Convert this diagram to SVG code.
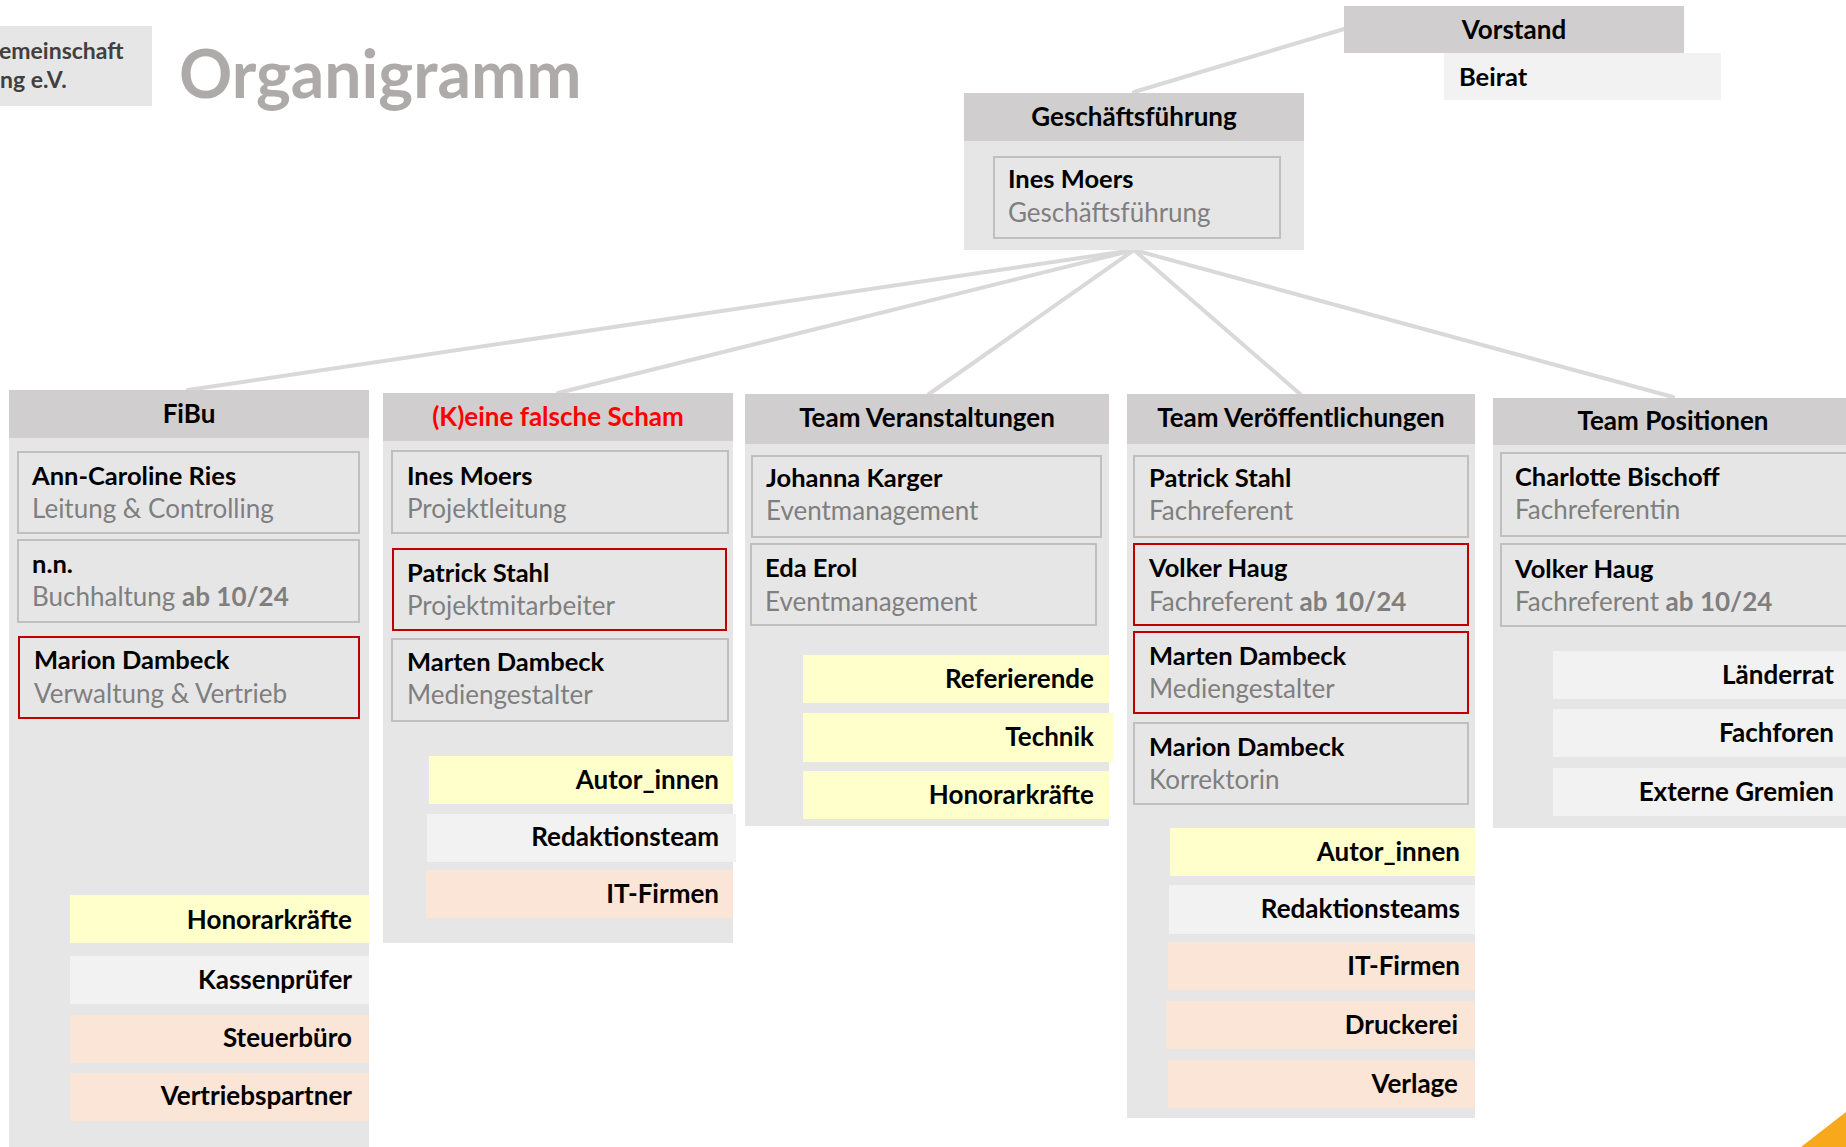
<svg xmlns="http://www.w3.org/2000/svg" width="1846" height="1147" viewBox="0 0 1846 1147">
<style>
text{font-family:Lato,"Open Sans","Liberation Sans",sans-serif}
.hdr{fill:#d0cece}
.body{fill:#e7e6e6}
.pb{fill:#e7e6e6;stroke:#bfbfbf;stroke-width:2}
.pr{fill:#e7e6e6;stroke:#c00000;stroke-width:2}
.lt{fill:#f2f2f2}
.ye{fill:#ffffcc}
.pe{fill:#fbe5d6}
.ht{font-size:26px;font-weight:700;fill:#000;text-anchor:middle}
.nm{font-size:25.5px;font-weight:700;fill:#000}
.rl{font-size:26px;font-weight:400;fill:#7f7f7f}
.rl tspan{font-weight:700}
.ex{font-size:26px;font-weight:700;fill:#000;text-anchor:end}
.con{stroke:#d9d9d9;stroke-width:4;fill:none;stroke-linecap:round}
</style>

<g id="title">
<rect x="0" y="26" width="152" height="80" fill="#e7e6e6"/>
<text x="-1" y="59" font-size="23" font-weight="700" fill="#404040">emeinschaft</text>
<text x="0" y="88" font-size="23" font-weight="700" fill="#404040">ng e.V.</text>
<text x="179" y="98" font-size="66" font-weight="700" fill="#aeaaaa">Organigramm</text>
</g>

<g id="connectors">
<line class="con" x1="1344" y1="29" x2="1134" y2="92"/>
<line class="con" x1="1134" y1="250" x2="188" y2="390"/>
<line class="con" x1="1134" y1="250" x2="558" y2="393"/>
<line class="con" x1="1134" y1="250" x2="929" y2="394"/>
<line class="con" x1="1134" y1="250" x2="1300" y2="394"/>
<line class="con" x1="1134" y1="250" x2="1673" y2="397"/>
</g>

<g id="vorstand">
<rect class="hdr" x="1344" y="6" width="340" height="47"/>
<text class="ht" x="1514" y="39">Vorstand</text>
</g>
<g id="beirat">
<rect class="lt" x="1444" y="53" width="277" height="47"/>
<text class="nm" x="1459" y="86">Beirat</text>
</g>

<g id="geschaeftsfuehrung">
<rect class="body" x="964" y="141" width="340" height="109"/>
<rect class="hdr" x="964" y="93" width="340" height="48"/>
<text class="ht" x="1134" y="126">Geschäftsführung</text>
<rect class="pb" x="994" y="157" width="286" height="81"/>
<text class="nm" x="1008" y="188">Ines Moers</text>
<text class="rl" x="1008" y="222">Geschäftsführung</text>
</g>

<g id="fibu">
<rect class="body" x="9" y="438" width="360" height="709"/>
<rect class="hdr" x="9" y="390" width="360" height="48"/>
<text class="ht" x="189" y="423">FiBu</text>
<rect class="pb" x="18" y="452" width="341" height="81"/>
<text class="nm" x="32" y="485">Ann-Caroline Ries</text>
<text class="rl" x="32" y="518">Leitung &amp; Controlling</text>
<rect class="pb" x="18" y="540" width="341" height="82"/>
<text class="nm" x="32" y="573">n.n.</text>
<text class="rl" x="32" y="606">Buchhaltung <tspan>ab 10/24</tspan></text>
<rect class="pr" x="19" y="637" width="340" height="81"/>
<text class="nm" x="34" y="669">Marion Dambeck</text>
<text class="rl" x="34" y="703">Verwaltung &amp; Vertrieb</text>
<rect class="ye" x="70" y="895" width="299" height="48"/>
<text class="ex" x="352" y="929">Honorarkräfte</text>
<rect class="lt" x="70" y="956" width="299" height="48"/>
<text class="ex" x="352" y="989">Kassenprüfer</text>
<rect class="pe" x="70" y="1015" width="299" height="48"/>
<text class="ex" x="352" y="1047">Steuerbüro</text>
<rect class="pe" x="70" y="1073" width="299" height="48"/>
<text class="ex" x="352" y="1105">Vertriebspartner</text>
</g>

<g id="keine-falsche-scham">
<rect class="body" x="383" y="441" width="350" height="502"/>
<rect class="hdr" x="383" y="393" width="350" height="48"/>
<text class="ht" x="558" y="426" style="fill:#ff0000">(K)eine falsche Scham</text>
<rect class="pb" x="392" y="451" width="336" height="82"/>
<text class="nm" x="407" y="485">Ines Moers</text>
<text class="rl" x="407" y="518">Projektleitung</text>
<rect class="pr" x="393" y="549" width="333" height="81"/>
<text class="nm" x="407" y="582">Patrick Stahl</text>
<text class="rl" x="407" y="615">Projektmitarbeiter</text>
<rect class="pb" x="392" y="639" width="336" height="82"/>
<text class="nm" x="407" y="671">Marten Dambeck</text>
<text class="rl" x="407" y="704">Mediengestalter</text>
<rect class="ye" x="429" y="756" width="304" height="48"/>
<text class="ex" x="719" y="789">Autor_innen</text>
<rect class="lt" x="427" y="814" width="309" height="48"/>
<text class="ex" x="719" y="846">Redaktionsteam</text>
<rect class="pe" x="426" y="870" width="307" height="48"/>
<text class="ex" x="719" y="903">IT-Firmen</text>
</g>

<g id="team-veranstaltungen">
<rect class="body" x="745" y="444" width="364" height="382"/>
<rect class="hdr" x="745" y="394" width="364" height="50"/>
<text class="ht" x="927" y="427">Team Veranstaltungen</text>
<rect class="pb" x="752" y="456" width="349" height="81"/>
<text class="nm" x="766" y="487">Johanna Karger</text>
<text class="rl" x="766" y="520">Eventmanagement</text>
<rect class="pb" x="751" y="544" width="345" height="81"/>
<text class="nm" x="765" y="577">Eda Erol</text>
<text class="rl" x="765" y="611">Eventmanagement</text>
<rect class="ye" x="803" y="655" width="306" height="48"/>
<text class="ex" x="1094" y="688">Referierende</text>
<rect class="ye" x="803" y="713" width="310" height="49"/>
<text class="ex" x="1094" y="746">Technik</text>
<rect class="ye" x="803" y="771" width="306" height="48"/>
<text class="ex" x="1094" y="804">Honorarkräfte</text>
</g>

<g id="team-veroeffentlichungen">
<rect class="body" x="1127" y="444" width="348" height="674"/>
<rect class="hdr" x="1127" y="394" width="348" height="50"/>
<text class="ht" x="1301" y="427">Team Veröffentlichungen</text>
<rect class="pb" x="1134" y="456" width="334" height="81"/>
<text class="nm" x="1149" y="487">Patrick Stahl</text>
<text class="rl" x="1149" y="520">Fachreferent</text>
<rect class="pr" x="1134" y="544" width="334" height="81"/>
<text class="nm" x="1149" y="577">Volker Haug</text>
<text class="rl" x="1149" y="611">Fachreferent <tspan>ab 10/24</tspan></text>
<rect class="pr" x="1134" y="632" width="334" height="81"/>
<text class="nm" x="1149" y="665">Marten Dambeck</text>
<text class="rl" x="1149" y="698">Mediengestalter</text>
<rect class="pb" x="1134" y="723" width="334" height="81"/>
<text class="nm" x="1149" y="756">Marion Dambeck</text>
<text class="rl" x="1149" y="789">Korrektorin</text>
<rect class="ye" x="1170" y="828" width="305" height="48"/>
<text class="ex" x="1460" y="861">Autor_innen</text>
<rect class="lt" x="1169" y="885" width="306" height="49"/>
<text class="ex" x="1460" y="918">Redaktionsteams</text>
<rect class="pe" x="1168" y="942" width="307" height="48"/>
<text class="ex" x="1460" y="975">IT-Firmen</text>
<rect class="pe" x="1166" y="1001" width="309" height="48"/>
<text class="ex" x="1458" y="1034">Druckerei</text>
<rect class="pe" x="1168" y="1060" width="307" height="48"/>
<text class="ex" x="1458" y="1093">Verlage</text>
</g>

<g id="team-positionen">
<rect class="body" x="1493" y="445" width="353" height="383"/>
<rect class="hdr" x="1493" y="398" width="353" height="47"/>
<text class="ht" x="1673" y="430">Team Positionen</text>
<rect class="pb" x="1501" y="453" width="350" height="83"/>
<text class="nm" x="1515" y="486">Charlotte Bischoff</text>
<text class="rl" x="1515" y="519">Fachreferentin</text>
<rect class="pb" x="1501" y="544" width="350" height="82"/>
<text class="nm" x="1515" y="578">Volker Haug</text>
<text class="rl" x="1515" y="611">Fachreferent <tspan>ab 10/24</tspan></text>
<rect class="lt" x="1553" y="651" width="293" height="48"/>
<text class="ex" x="1834" y="684">Länderrat</text>
<rect class="lt" x="1553" y="709" width="293" height="48"/>
<text class="ex" x="1834" y="742">Fachforen</text>
<rect class="lt" x="1553" y="768" width="293" height="48"/>
<text class="ex" x="1834" y="801">Externe Gremien</text>
</g>

<polygon points="1846,1112 1846,1147 1801,1147" fill="#f7a81b"/>
</svg>
